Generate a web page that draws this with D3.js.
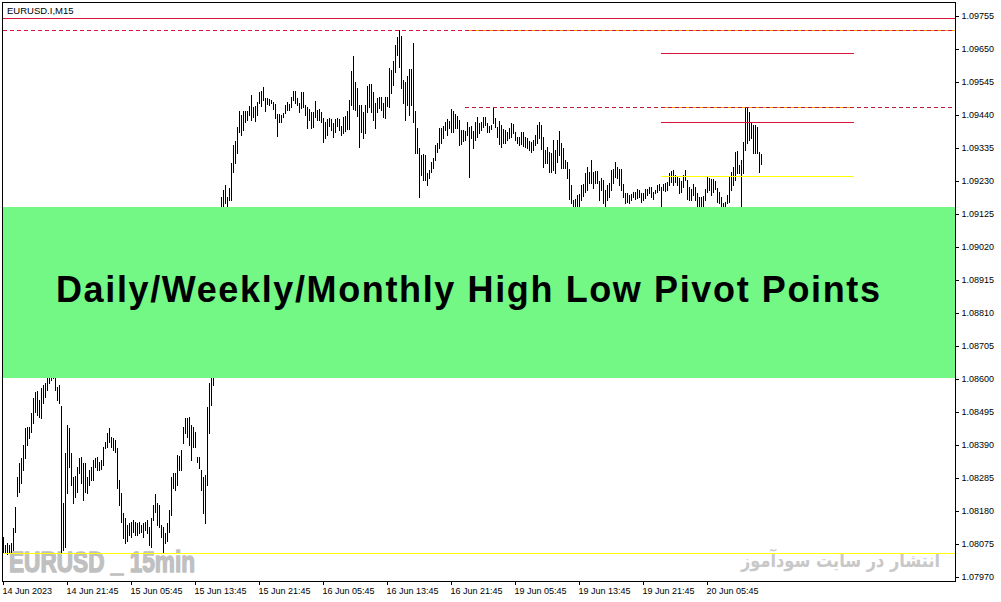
<!DOCTYPE html>
<html>
<head>
<meta charset="utf-8">
<script src="https://cdn.jsdelivr.net/npm/d3@7"></script>
<style>
  html, body { margin: 0; padding: 0; background: #fff; }
  svg { display: block; }
  .axis text { font-family: "Liberation Sans", Arial, sans-serif; font-size: 9px; fill: #000; }
  .axis line { stroke: #000; }
</style>
</head>
<body>
<svg id="chart" width="1001" height="602"></svg>
<script>
// chart symbol and banner texts
const symbolTitle = "EURUSD.I,M15";
const bannerText = "Daily/Weekly/Monthly High Low Pivot Points";
const watermarkText = "EURUSD _ 15min";
const siteText = "انتشار در سایت سودآموز";

// M15 bar highs / lows, one per bar
const highs = [
  1.08098,1.08072,1.08077,1.08072,1.08077,1.08125,1.08194,1.08289,1.08332,1.08348,
  1.08390,1.08443,1.08448,1.08448,1.08491,1.08538,1.08560,1.08563,1.08533,1.08570,
  1.08581,1.08586,1.08610,1.08620,1.08630,1.08640,1.08612,1.08576,1.08581,1.08514,
  1.08204,1.08363,1.08454,1.08443,1.08363,1.08289,1.08291,1.08321,1.08348,1.08351,
  1.08332,1.08332,1.08289,1.08310,1.08321,1.08342,1.08348,1.08351,1.08337,1.08342,
  1.08385,1.08401,1.08427,1.08443,1.08417,1.08411,1.08406,1.08379,1.08279,1.08236,
  1.08173,1.08157,1.08135,1.08141,1.08146,1.08151,1.08146,1.08141,1.08146,1.08135,
  1.08141,1.08146,1.08151,1.08130,1.08157,1.08199,1.08234,1.08204,1.08199,1.08135,
  1.08130,1.08109,1.08141,1.08183,1.08289,1.08300,1.08302,1.08358,1.08355,1.08374,
  1.08448,1.08475,1.08475,1.08480,1.08454,1.08448,1.08432,1.08353,1.08353,1.08310,
  1.08289,1.08295,1.08512,1.08586,1.08700,1.08780,1.08850,1.09000,1.09120,1.09180,
  1.09201,1.09217,1.09180,1.09207,1.09286,1.09345,1.09358,1.09403,1.09454,1.09440,
  1.09454,1.09454,1.09454,1.09469,1.09504,1.09464,1.09469,1.09482,1.09514,1.09517,
  1.09530,1.09493,1.09494,1.09492,1.09488,1.09482,1.09475,1.09443,1.09443,1.09440,
  1.09445,1.09472,1.09482,1.09475,1.09498,1.09517,1.09517,1.09493,1.09477,1.09514,
  1.09514,1.09472,1.09467,1.09458,1.09451,1.09448,1.09486,1.09456,1.09458,1.09451,
  1.09429,1.09419,1.09426,1.09429,1.09426,1.09416,1.09426,1.09429,1.09426,1.09405,
  1.09433,1.09437,1.09454,1.09488,1.09581,1.09628,1.09546,1.09525,1.09472,1.09472,
  1.09448,1.09472,1.09532,1.09539,1.09539,1.09514,1.09479,1.09493,1.09496,1.09496,
  1.09479,1.09498,1.09498,1.09588,1.09583,1.09613,1.09663,1.09687,1.09709,1.09691,
  1.09551,1.09546,1.09564,1.09585,1.09585,1.09670,1.09454,1.09398,1.09334,1.09313,
  1.09316,1.09313,1.09254,1.09265,1.09292,1.09302,1.09345,1.09352,1.09398,1.09398,
  1.09405,1.09419,1.09426,1.09422,1.09460,1.09452,1.09443,1.09437,1.09425,1.09393,
  1.09393,1.09389,1.09419,1.09403,1.09405,1.09390,1.09419,1.09435,1.09413,1.09419,
  1.09433,1.09435,1.09413,1.09405,1.09408,1.09465,1.09429,1.09401,1.09422,1.09408,
  1.09394,1.09392,1.09387,1.09398,1.09413,1.09411,1.09387,1.09371,1.09371,1.09387,
  1.09387,1.09369,1.09366,1.09358,1.09355,1.09360,1.09376,1.09408,1.09419,1.09408,
  1.09371,1.09329,1.09339,1.09323,1.09318,1.09360,1.09329,1.09360,1.09390,1.09350,
  1.09334,1.09297,1.09291,1.09267,1.09217,1.09169,1.09172,1.09185,1.09189,1.09217,
  1.09220,1.09256,1.09273,1.09260,1.09297,1.09260,1.09263,1.09263,1.09231,1.09238,
  1.09233,1.09201,1.09217,1.09223,1.09265,1.09269,1.09291,1.09273,1.09267,1.09267,
  1.09220,1.09193,1.09193,1.09185,1.09189,1.09196,1.09196,1.09203,1.09201,1.09191,
  1.09191,1.09206,1.09203,1.09210,1.09210,1.09196,1.09201,1.09217,1.09220,1.09212,
  1.09220,1.09223,1.09228,1.09254,1.09263,1.09265,1.09249,1.09244,1.09238,1.09231,
  1.09249,1.09265,1.09233,1.09212,1.09203,1.09220,1.09212,1.09191,1.09180,1.09180,
  1.09182,1.09203,1.09242,1.09238,1.09235,1.09235,1.09231,1.09207,1.09196,1.09180,
  1.09161,1.09164,1.09185,1.09246,1.09260,1.09276,1.09323,1.09326,1.09281,1.09297,
  1.09355,1.09465,1.09465,1.09451,1.09419,1.09408,1.09408,1.09403,1.09323,1.09316
];
const lows = [
  1.08047,1.08045,1.08043,1.08047,1.08051,1.08056,1.08114,1.08228,1.08242,1.08268,
  1.08310,1.08348,1.08390,1.08411,1.08432,1.08459,1.08496,1.08485,1.08480,1.08475,
  1.08523,1.08544,1.08565,1.08586,1.08597,1.08602,1.08565,1.08533,1.08523,1.08051,
  1.08056,1.08067,1.08236,1.08321,1.08263,1.08204,1.08226,1.08242,1.08300,1.08270,
  1.08215,1.08242,1.08236,1.08263,1.08279,1.08279,1.08321,1.08310,1.08310,1.08313,
  1.08326,1.08379,1.08385,1.08401,1.08385,1.08374,1.08369,1.08252,1.08199,1.08146,
  1.08093,1.08077,1.08083,1.08104,1.08098,1.08114,1.08104,1.08104,1.08109,1.08114,
  1.08098,1.08120,1.08109,1.08072,1.08067,1.08151,1.08178,1.08135,1.08130,1.08098,
  1.08045,1.08077,1.08083,1.08114,1.08167,1.08252,1.08247,1.08263,1.08310,1.08310,
  1.08395,1.08427,1.08417,1.08390,1.08342,1.08385,1.08385,1.08337,1.08316,1.08247,
  1.08173,1.08143,1.08263,1.08427,1.08517,1.08581,1.08700,1.08820,1.08950,1.09060,
  1.09150,1.09160,1.09120,1.09170,1.09170,1.09260,1.09288,1.09320,1.09387,1.09376,
  1.09392,1.09419,1.09424,1.09440,1.09424,1.09435,1.09421,1.09440,1.09477,1.09469,
  1.09488,1.09454,1.09475,1.09472,1.09477,1.09458,1.09429,1.09374,1.09419,1.09419,
  1.09435,1.09445,1.09456,1.09456,1.09467,1.09488,1.09477,1.09472,1.09451,1.09461,
  1.09464,1.09440,1.09398,1.09424,1.09398,1.09401,1.09435,1.09424,1.09424,1.09419,
  1.09355,1.09366,1.09376,1.09405,1.09392,1.09369,1.09387,1.09405,1.09392,1.09376,
  1.09382,1.09390,1.09394,1.09394,1.09472,1.09458,1.09456,1.09437,1.09339,1.09387,
  1.09366,1.09382,1.09451,1.09464,1.09451,1.09424,1.09398,1.09451,1.09461,1.09456,
  1.09435,1.09429,1.09469,1.09467,1.09509,1.09536,1.09578,1.09631,1.09594,1.09525,
  1.09477,1.09424,1.09472,1.09440,1.09472,1.09419,1.09318,1.09318,1.09180,1.09249,
  1.09233,1.09233,1.09217,1.09238,1.09260,1.09270,1.09297,1.09323,1.09334,1.09352,
  1.09366,1.09392,1.09376,1.09398,1.09385,1.09387,1.09398,1.09398,1.09346,1.09349,
  1.09357,1.09359,1.09376,1.09243,1.09366,1.09334,1.09360,1.09371,1.09382,1.09392,
  1.09403,1.09408,1.09387,1.09387,1.09394,1.09413,1.09403,1.09371,1.09348,1.09337,
  1.09350,1.09350,1.09360,1.09366,1.09371,1.09384,1.09360,1.09350,1.09344,1.09348,
  1.09341,1.09339,1.09334,1.09329,1.09323,1.09329,1.09344,1.09350,1.09366,1.09331,
  1.09276,1.09286,1.09286,1.09260,1.09260,1.09265,1.09254,1.09292,1.09313,1.09270,
  1.09270,1.09270,1.09238,1.09172,1.09160,1.09150,1.09148,1.09150,1.09145,1.09169,
  1.09182,1.09196,1.09201,1.09223,1.09223,1.09207,1.09225,1.09223,1.09169,1.09201,
  1.09159,1.09148,1.09169,1.09180,1.09201,1.09223,1.09244,1.09238,1.09217,1.09201,
  1.09180,1.09159,1.09164,1.09159,1.09169,1.09178,1.09172,1.09175,1.09178,1.09164,
  1.09169,1.09175,1.09185,1.09191,1.09180,1.09172,1.09191,1.09196,1.09201,1.09140,
  1.09201,1.09199,1.09201,1.09217,1.09228,1.09217,1.09228,1.09217,1.09191,1.09196,
  1.09212,1.09233,1.09172,1.09169,1.09169,1.09185,1.09169,1.09140,1.09140,1.09143,
  1.09146,1.09169,1.09196,1.09201,1.09185,1.09196,1.09203,1.09164,1.09159,1.09148,
  1.09143,1.09148,1.09159,1.09164,1.09201,1.09217,1.09233,1.09254,1.09256,1.09148,
  1.09254,1.09329,1.09350,1.09360,1.09366,1.09318,1.09318,1.09318,1.09260,1.09284
];

// price scale labels on the right
const yTickValues = [1.09755,1.09650,1.09545,1.09440,1.09335,1.09230,1.09125,1.09020,1.08915,
  1.08810,1.08705,1.08600,1.08495,1.08390,1.08285,1.08180,1.08075,1.07970];

// time scale: bar index of each label and its text
const xTickBars = [0,32,64,96,128,160,192,224,256,288,320,352];
const xTickLabels = ["14 Jun 2023","14 Jun 21:45","15 Jun 05:45","15 Jun 13:45","15 Jun 21:45",
  "16 Jun 05:45","16 Jun 13:45","16 Jun 21:45","19 Jun 05:45","19 Jun 13:45","19 Jun 21:45","20 Jun 05:45"];

// pivot / high-low levels: price, first bar, last bar
const levelValues = [1.09749, 1.09710, 1.09465, 1.09637, 1.09418, 1.09246, 1.08046];
const levelFrom   = [0,       0,       231,     329,     329,     329,     0];
const levelTo     = [476,     476,     476,     425,     425,     425,     476];
// orange levels lying on the same price as the dashed ones
const orangeValues = [1.09710, 1.09465];
const orangeFrom   = [231, 329];
const orangeTo     = [476, 425];

const levelStyle = [
  { stroke: "#dc143c", dash: null },
  { stroke: "#dc143c", dash: "4,3" },
  { stroke: "#b81c3c", dash: "4,3" },
  { stroke: "#dc143c", dash: null },
  { stroke: "#dc143c", dash: null },
  { stroke: "#ffff00", dash: null },
  { stroke: "#ffff00", dash: null }
];

const svg = d3.select("#chart");
const plotLeft = 3, plotRight = 955, plotTop = 3, plotBottom = 581;

// 2px per bar
const xScale = d3.scaleLinear().domain([0, 476]).range([plotLeft, plotRight]);
const yScale = d3.scaleLinear().domain([1.07970, 1.09755]).range([577, 16]);
const py = v => Math.round(yScale(v));

svg.append("rect").attr("width", 1001).attr("height", 602).attr("fill", "#fff");

svg.append("clipPath").attr("id", "plot-clip")
  .append("rect").attr("x", plotLeft).attr("y", plotTop)
  .attr("width", plotRight - plotLeft).attr("height", plotBottom - plotTop);

//watermark under the bars, stroked to look heavy
svg.append("text")
  .attr("x", 9).attr("y", 572)
  .attr("font-family", "'Liberation Sans Narrow', 'Liberation Sans', Arial, sans-serif")
  .attr("font-weight", "bold").attr("font-size", 29)
  .attr("textLength", 186).attr("lengthAdjust", "spacingAndGlyphs")
  .attr("fill", "#c0c0c0")
  .attr("stroke", "#c0c0c0").attr("stroke-width", 1.4)
  .attr("stroke-linejoin", "round")
  .text(watermarkText);

svg.append("text")
  .attr("x", 940).attr("y", 567)
  .attr("text-anchor", "end")
  .attr("font-family", "'DejaVu Sans', sans-serif")
  .attr("font-weight", "bold")
  .attr("font-size", 19)
  .attr("textLength", 199).attr("lengthAdjust", "spacingAndGlyphs")
  .attr("fill", "#c8c8c8")
  .text(siteText);

const plot = svg.append("g").attr("clip-path", "url(#plot-clip)")
  .attr("shape-rendering", "crispEdges");

//bars
plot.selectAll("rect.bar")
  .data(highs)
  .enter().append("rect")
  .attr("class", "bar")
  .attr("x", (d, i) => xScale(i))
  .attr("y", d => py(d))
  .attr("width", 1)
  .attr("height", (d, i) => py(lows[i]) - py(d) + 1)
  .attr("fill", "#000");

//orange under the dashed lines
plot.selectAll("line.orange")
  .data(orangeValues)
  .enter().append("line")
  .attr("class", "orange")
  .attr("x1", (d, i) => xScale(orangeFrom[i]))
  .attr("x2", (d, i) => xScale(orangeTo[i]) + 1)
  .attr("y1", d => py(d) + 0.5)
  .attr("y2", d => py(d) + 0.5)
  .attr("stroke", "#ffa500");

plot.selectAll("line.level")
  .data(levelValues)
  .enter().append("line")
  .attr("class", "level")
  .attr("x1", (d, i) => xScale(levelFrom[i]))
  .attr("x2", (d, i) => xScale(levelTo[i]) + 1)
  .attr("y1", d => py(d) + 0.5)
  .attr("y2", d => py(d) + 0.5)
  .attr("stroke", (d, i) => levelStyle[i].stroke)
  .attr("stroke-dasharray", (d, i) => levelStyle[i].dash);

//banner
plot.append("rect")
  .attr("x", plotLeft).attr("y", 207)
  .attr("width", plotRight - plotLeft).attr("height", 171)
  .attr("fill", "#73f785");

svg.append("text")
  .attr("x", 56).attr("y", 302)
  .attr("font-family", "'Liberation Sans', Arial, sans-serif")
  .attr("font-weight", "bold").attr("font-size", 36)
  .attr("textLength", 824).attr("lengthAdjust", "spacing")
  .attr("fill", "#000")
  .text(bannerText);

svg.append("text")
  .attr("x", 7).attr("y", 13.5)
  .attr("font-family", "'Liberation Sans', Arial, sans-serif")
  .attr("font-size", 9.5)
  .attr("fill", "#000")
  .text(symbolTitle);

//frame
svg.append("rect")
  .attr("x", 2.5).attr("y", 2.5)
  .attr("width", plotRight - 2).attr("height", plotBottom - 2)
  .attr("fill", "none").attr("stroke", "#000")
  .attr("shape-rendering", "crispEdges");

//axes
const yAxis = d3.axisRight(yScale)
  .tickValues(yTickValues)
  .tickFormat(d3.format(".5f"))
  .tickSize(3.5).tickPadding(2.5);
svg.append("g")
  .attr("class", "axis")
  .attr("transform", `translate(${plotRight + 0.5},0)`)
  .call(yAxis)
  .call(g => g.select(".domain").remove());

const xAxis = d3.axisBottom(xScale)
  .tickValues(xTickBars)
  .tickFormat((d, i) => xTickLabels[i])
  .tickSize(3.5).tickPadding(2.6);
svg.append("g")
  .attr("class", "axis")
  .attr("transform", `translate(0,${plotBottom + 0.5})`)
  .call(xAxis)
  .call(g => g.select(".domain").remove())
  .call(g => g.selectAll("text").attr("text-anchor", "start").attr("x", -1));
</script>
</body>
</html>
